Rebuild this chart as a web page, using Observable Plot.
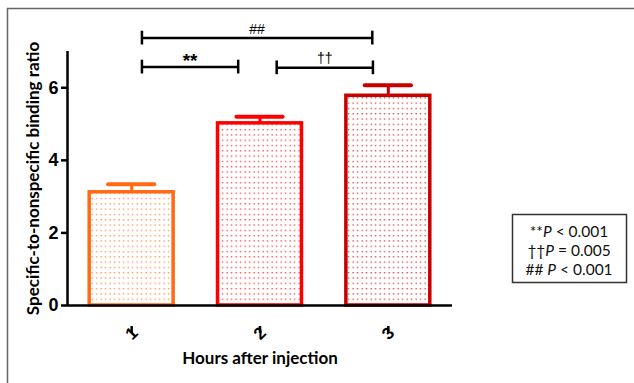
<!DOCTYPE html>
<html>
<head>
<meta charset="utf-8">
<script src="https://cdn.jsdelivr.net/npm/d3@7"></script>
<script src="https://cdn.jsdelivr.net/npm/@observablehq/plot@0.6"></script>
<style>
  body { margin: 0; background: #fff; }
  #chart { position: relative; width: 634px; height: 383px; overflow: hidden; }
</style>
</head>
<body>
<div id="chart"></div>
<script>
// Data
const hours = [1, 2, 3];
const means = [3.12, 5.02, 5.78];
const sems = [0.22, 0.18, 0.29];
const barColors = ["#ff6a13", "#ff0000", "#c80000"];
const yTicks = [0, 2, 4, 6];

const compLabels = ["##", "**", "††"];
const compWeights = ["normal", "bold", "normal"];
const compFrom = [1.08, 1.08, 2.13];
const compTo = [2.875, 1.83, 2.88];
const compLevel = [7.37, 6.57, 6.55];

const legendLines = [["**", "P", " < 0.001"], ["††", "P", " = 0.005"], ["## ", "P", " < 0.001"]];

const bars = hours.map((h, i) => ({h, mean: means[i], sem: sems[i], color: barColors[i], pat: `url(#dots${i})`}));
const comps = compLabels.map((l, i) => ({label: l, weight: compWeights[i], from: compFrom[i], to: compTo[i], level: compLevel[i]}));

const halfW = 0.327, capW = 0.18, endTick = 0.19;

const plot = Plot.plot({
  width: 634,
  height: 383,
  marginLeft: 67,
  marginRight: 182,
  marginTop: 51,
  marginBottom: 78,
  style: {fontFamily: "Liberation Sans, Arial, sans-serif", background: "white"},
  x: {domain: [0.5, 3.5]},
  y: {domain: [0, 7]},
  marks: [
    Plot.rect(bars, {x1: d => d.h - halfW, x2: d => d.h + halfW, y1: 0, y2: "mean", fill: "pat", stroke: "color", strokeWidth: 3.5}),
    Plot.ruleX(bars, {x: "h", y1: "mean", y2: d => d.mean + d.sem, stroke: "color", strokeWidth: 3}),
    Plot.ruleY(bars, {y: d => d.mean + d.sem, x1: d => d.h - capW, x2: d => d.h + capW, stroke: "color", strokeWidth: 4, strokeLinecap: "round"}),
    // significance brackets
    Plot.ruleY(comps, {y: "level", x1: "from", x2: "to", stroke: "black", strokeWidth: 2.5}),
    Plot.ruleX(comps, {x: "from", y1: d => d.level - endTick, y2: d => d.level + endTick, stroke: "black", strokeWidth: 2.5}),
    Plot.ruleX(comps, {x: "to", y1: d => d.level - endTick, y2: d => d.level + endTick, stroke: "black", strokeWidth: 2.5}),
    Plot.text(comps.filter(d => d.weight === "bold"), {x: d => (d.from + d.to) / 2, y: "level", text: "label", dy: -6, fontSize: 19, fontWeight: "bold", fill: "#000"}),
    Plot.text(comps.filter(d => d.weight !== "bold"), {x: d => (d.from + d.to) / 2, y: "level", text: "label", dy: -9, fontSize: 14, fill: "#000"}),
    // axes
    Plot.axisY({ticks: yTicks, tickSize: 6, tickPadding: 3, tickFormat: d3.format("d"), fontSize: 18, fontWeight: "bold",
      label: "Specific-to-nonspecific binding ratio", labelAnchor: "center", labelArrow: "none", labelOffset: 41}),
    Plot.axisX({ticks: hours, tickSize: 7, tickFormat: d3.format("d"), tickRotate: -45, textAnchor: "middle", lineAnchor: "middle",
      tickPadding: 0, dy: 21, fontSize: 17, fontWeight: "bold",
      label: "Hours after injection", labelAnchor: "center", labelArrow: "none", labelOffset: 58}),
    Plot.ruleX([0.5], {y1: 0, y2: 7, stroke: "black", strokeWidth: 2.5}),
    Plot.ruleY([0], {x1: 0.5, x2: 3.5, stroke: "black", strokeWidth: 2.5})
  ]
});

const svg = d3.select(plot);
svg.selectAll("g[aria-label='y-axis tick'], g[aria-label='x-axis tick']").attr("stroke-width", 2.5);
svg.selectAll("g[aria-label='y-axis label'] text, g[aria-label='x-axis label'] text")
  .style("font-family", "Lato, 'Open Sans', sans-serif").style("font-weight", "bold").style("font-size", "17px");

// dot patterns
const defs = svg.insert("defs", ":first-child");
barColors.forEach((c, i) => {
  const p = defs.append("pattern").attr("id", `dots${i}`).attr("patternUnits", "userSpaceOnUse")
    .attr("width", 4.5).attr("height", 5.3);
  p.append("rect").attr("width", 4.5).attr("height", 5.3).attr("fill", "white");
  p.append("rect").attr("x", 1.5).attr("y", 1.8).attr("width", 1.3).attr("height", 1.3).attr("fill", c).attr("opacity", 0.8);
});

// outer frame
svg.append("rect").attr("x", 7.5).attr("y", 8.5).attr("width", 700).attr("height", 500)
  .attr("fill", "none").attr("stroke", "#666").attr("stroke-width", 1.5);

// legend box
const lg = svg.append("g");
lg.append("rect").attr("x", 512.5).attr("y", 214.5).attr("width", 114).attr("height", 68)
  .attr("fill", "white").attr("stroke", "#333").attr("stroke-width", 1.5);
legendLines.forEach((parts, i) => {
  const t = lg.append("text").attr("x", 569).attr("y", 237 + i * 19).attr("text-anchor", "middle")
    .style("font-family", "Lato, 'Open Sans', sans-serif").style("font-size", "15.5px").attr("fill", "#111");
  t.append("tspan").text(parts[0]);
  t.append("tspan").style("font-style", "italic").text(parts[1]);
  t.append("tspan").text(parts[2]);
});

document.getElementById("chart").appendChild(plot);
</script>
</body>
</html>
